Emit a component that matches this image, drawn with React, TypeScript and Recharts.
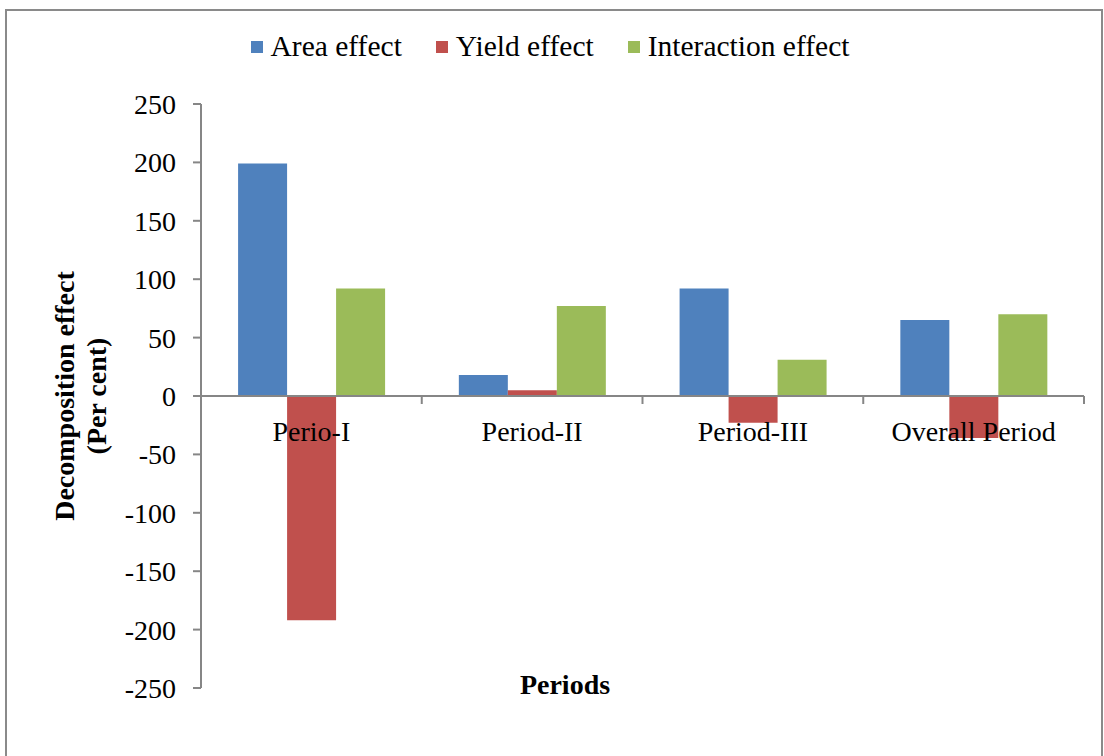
import React from 'react';
import { BarChart, Bar, XAxis, YAxis, Legend, ReferenceLine, Label } from 'recharts';

const periods = ['Perio-I', 'Period-II', 'Period-III', 'Overall Period'];
const areaEffect = [199, 18, 92, 65];
const yieldEffect = [-192, 5, -23, -36];
const interactionEffect = [92, 77, 31, 70];
const yTicks = [-250, -200, -150, -100, -50, 0, 50, 100, 150, 200, 250];

const series = [
  { key: 'area', name: 'Area effect', color: '#4F81BD' },
  { key: 'yield', name: 'Yield effect', color: '#C0504D' },
  { key: 'interaction', name: 'Interaction effect', color: '#9BBB59' },
];

const data = periods.map((name, i) => ({
  name,
  area: areaEffect[i],
  yield: yieldEffect[i],
  interaction: interactionEffect[i],
}));

const FONT = '"Liberation Serif", "Times New Roman", serif';
const AXIS = '#868686';
const W = 1104;
const H = 756;
const PLOT_LEFT = 201;
const PLOT_RIGHT = 1084;
const PLOT_TOP = 104;
const PLOT_BOTTOM = 688;
const Y_WIDTH = 60;
const X_HEIGHT = 1;
const zeroY = PLOT_TOP + (PLOT_BOTTOM - PLOT_TOP) * 0.5;
const halfBand = (PLOT_RIGHT - PLOT_LEFT) / periods.length / 2;

const CategoryTick = (props: any) => {
  const { x, payload } = props;
  return (
    <g>
      <line x1={x + halfBand} x2={x + halfBand} y1={zeroY} y2={zeroY + 8} stroke={AXIS} strokeWidth={2} />
      <text x={x} y={zeroY + 45} textAnchor="middle" fontFamily={FONT} fontSize={28} fill="#000">
        {payload.value}
      </text>
    </g>
  );
};

const LegendContent = () => (
  <div style={{ display: 'flex', justifyContent: 'center', fontFamily: FONT, fontSize: 29.5, color: '#000' }}>
    {series.map((s) => (
      <div key={s.key} style={{ display: 'flex', alignItems: 'center', margin: '0 17px' }}>
        <span style={{ display: 'inline-block', width: 12, height: 12, background: s.color, marginRight: 8 }} />
        <span>{s.name}</span>
      </div>
    ))}
  </div>
);

const App = () => {
  return (
    <div style={{ position: 'absolute', left: 0, top: 0, width: W, height: H, background: '#fff', overflow: 'hidden' }}>
      <div
        style={{
          position: 'absolute',
          left: 5,
          top: 9,
          width: 1094,
          height: 780,
          border: '2px solid #8a8a8a',
        }}
      />
      <div style={{ position: 'absolute', left: 0, top: 0 }}>
        <BarChart
          width={W}
          height={H}
          data={data}
          barCategoryGap="16.8%"
          barGap={0}
          margin={{
            top: PLOT_TOP,
            right: W - PLOT_RIGHT,
            bottom: H - PLOT_BOTTOM - X_HEIGHT,
            left: PLOT_LEFT - Y_WIDTH,
          }}
        >
          <Legend
            verticalAlign="middle"
            align="center"
            content={<LegendContent />}
            wrapperStyle={{ top: 30, left: 0, width: W - 4 }}
          />
          <XAxis
            dataKey="name"
            height={X_HEIGHT}
            axisLine={false}
            tickLine={false}
            tick={<CategoryTick />}
            interval={0}
          >
            <Label
              content={(p: any) => (
                <text
                  x={p.viewBox.x + 364}
                  y={PLOT_BOTTOM + 6}
                  textAnchor="middle"
                  fontFamily={FONT}
                  fontSize={28}
                  fontWeight="bold"
                  fill="#000"
                >
                  Periods
                </text>
              )}
            />
          </XAxis>
          <YAxis
            width={Y_WIDTH}
            domain={[-250, 250]}
            ticks={yTicks}
            interval={0}
            stroke={AXIS}
            axisLine={{ stroke: AXIS, strokeWidth: 2 }}
            tickLine={{ stroke: AXIS, strokeWidth: 2 }}
            tickSize={8}
            tickMargin={17}
            tick={{ fontFamily: FONT, fontSize: 28, fill: '#000' }}
          >
            <Label
              content={() => (
                <g transform={`translate(82, ${zeroY}) rotate(-90)`}>
                  <text x={0} y={-8} textAnchor="middle" fontFamily={FONT} fontSize={28} fontWeight="bold" fill="#000">
                    Decomposition effect
                  </text>
                  <text x={0} y={24} textAnchor="middle" fontFamily={FONT} fontSize={28} fontWeight="bold" fill="#000">
                    (Per cent)
                  </text>
                </g>
              )}
            />
          </YAxis>
          <ReferenceLine y={0} stroke={AXIS} strokeWidth={2} />
          {series.map((s) => (
            <Bar key={s.key} dataKey={s.key} name={s.name} fill={s.color} isAnimationActive={false} />
          ))}
        </BarChart>
      </div>
    </div>
  );
};

export default App;
